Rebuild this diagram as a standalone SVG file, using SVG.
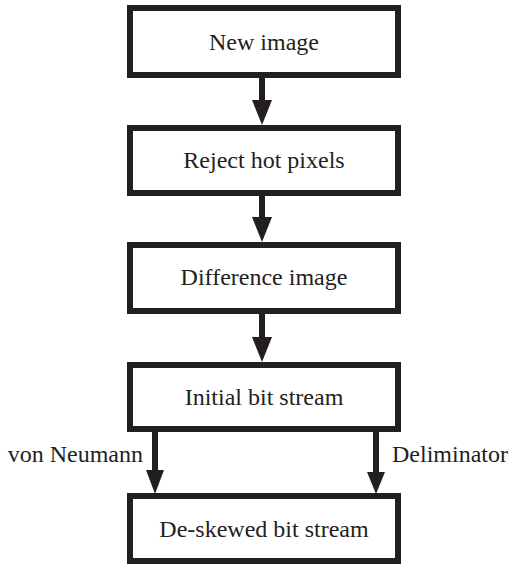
<svg xmlns="http://www.w3.org/2000/svg" width="510" height="564" viewBox="0 0 510 564">
  <style>
    .box { fill: #ffffff; stroke: #231f20; stroke-width: 6; }
    .label { font-family: "Liberation Serif", "Times New Roman", serif; font-size: 24px; fill: #231f20; }
    .shaft { stroke: #231f20; stroke-width: 6; fill: none; }
    .head { fill: #231f20; }
  </style>
  <rect width="510" height="564" fill="#ffffff"/>

  <g id="connectors">
    <line class="shaft" x1="262" y1="78" x2="262" y2="102"/>
    <polygon class="head" points="252,100 272,100 262,125"/>
    <line class="shaft" x1="262" y1="196" x2="262" y2="219"/>
    <polygon class="head" points="252,217 272,217 262,242"/>
    <line class="shaft" x1="262" y1="314" x2="262" y2="339"/>
    <polygon class="head" points="252,337 272,337 262,362"/>
    <line class="shaft" x1="155" y1="428" x2="155" y2="472"/>
    <polygon class="head" points="146,470 164,470 155,494"/>
    <line class="shaft" x1="376" y1="428" x2="376" y2="474"/>
    <polygon class="head" points="367,472 385,472 376,494"/>
    <text class="label" x="143" y="462" text-anchor="end">von Neumann</text>
    <text class="label" x="392" y="462">Deliminator</text>
  </g>

  <g id="new-image">
    <rect class="box" x="130" y="8" width="268" height="67"/>
    <text class="label" x="264" y="50" text-anchor="middle">New image</text>
  </g>
  <g id="reject-hot-pixels">
    <rect class="box" x="130" y="128" width="268" height="65"/>
    <text class="label" x="264" y="168" text-anchor="middle">Reject hot pixels</text>
  </g>
  <g id="difference-image">
    <rect class="box" x="130" y="245" width="268" height="66"/>
    <text class="label" x="264" y="285" text-anchor="middle">Difference image</text>
  </g>
  <g id="initial-bit-stream">
    <rect class="box" x="130" y="365" width="268" height="64"/>
    <text class="label" x="264" y="405" text-anchor="middle">Initial bit stream</text>
  </g>
  <g id="deskewed-bit-stream">
    <rect class="box" x="130" y="496" width="268" height="65"/>
    <text class="label" x="264" y="537" text-anchor="middle">De-skewed bit stream</text>
  </g>
</svg>
